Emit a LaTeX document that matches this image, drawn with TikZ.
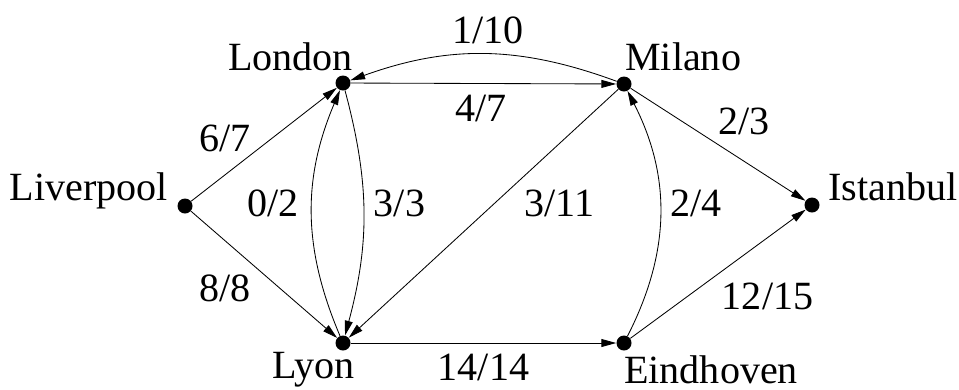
\documentclass[tikz,border=0pt]{standalone}
\usepackage{fontspec}
\setmainfont{Liberation Serif}
\usetikzlibrary{positioning,arrows.meta}
\tikzset{
  city/.style={circle, fill=black, inner sep=0pt, minimum size=0.375cm},
  cityname/.style={inner sep=0pt, font=\fontsize{28.5}{32}\selectfont},
  weight/.style={inner sep=0pt, font=\fontsize{28.5}{32}\selectfont},
  flow/.style={-{Triangle[length=10.5pt,width=5.6pt]}, line width=0.6pt},
}

\begin{document}
\begin{tikzpicture}[x=0.025cm, y=-0.025cm]
\useasboundingbox (0,0) rectangle (959,389);

% ---- cities ----------------------------------------------------------------
\node[city] (liverpool) at (185,206) {};
\node[city] (london)    at (343,83)  {};
\node[city] (milano)    at (624,84)  {};
\node[city] (istanbul)  at (812,205) {};
\node[city] (lyon)      at (343,343) {};
\node[city] (eindhoven) at (624,343) {};

% ---- city names ------------------------------------------------------------
\node[cityname, anchor=base east] (liverpoolname) at ([shift={(-17,-6)}]liverpool) {Liverpool};
\node[cityname, anchor=base east] (londonname)    at ([shift={(10,-13)}]london)     {London};
\node[cityname, anchor=base west] (milanoname)    at ([shift={(1,-14)}]milano)      {Milano};
\node[cityname, anchor=base west] (istanbulname)  at ([shift={(16,-5)}]istanbul)    {Istanbul};
\node[cityname, anchor=base east] (lyonname)      at ([shift={(12,35)}]lyon)        {Lyon};
\node[cityname, anchor=base west] (eindhovenname) at ([shift={(0,40)}]eindhoven)    {Eindhoven};

% ---- flows / capacities ----------------------------------------------------
\draw[flow] (liverpool) -- node[weight, pos=0.41, anchor=south east, yshift=2pt] (livlon) {6/7} (london);
\draw[flow] (liverpool) -- node[weight, pos=0.41, anchor=north east, yshift=-8pt] (livlyo) {8/8} (lyon);
\draw[flow] (london) -- node[weight, pos=0.49, below=0.28cm] (lonmil) {4/7} (milano);
\draw[flow] (milano) to[bend right=20] node[weight, pos=0.5, above=0.25cm, xshift=3pt] (millon) {1/10} (london);
\draw[flow] (lyon) to[bend left=23] node[weight, pos=0.54, left=0.32cm] (lyolon) {0/2} (london);
\draw[flow] (london) to[bend left=15] node[weight, pos=0.46, right=0.25cm] (lonlyo) {3/3} (lyon);
\draw[flow] (milano) -- node[weight, pos=0.35, anchor=north west, yshift=-9.5pt] (millyo) {3/11} (lyon);
\draw[flow] (eindhoven) to[bend right=27] node[weight, pos=0.54, right=0.25cm] (einmil) {2/4} (milano);
\draw[flow] (milano) -- node[weight, pos=0.5, anchor=south west, yshift=6.4pt] (milist) {2/3} (istanbul);
\draw[flow] (eindhoven) -- node[weight, pos=0.52, anchor=north west, yshift=-8pt] (einist) {12/15} (istanbul);
\draw[flow] (lyon) -- node[weight, pos=0.5, below=0.27cm] (lyoein) {14/14} (eindhoven);

\end{tikzpicture}
\end{document}
